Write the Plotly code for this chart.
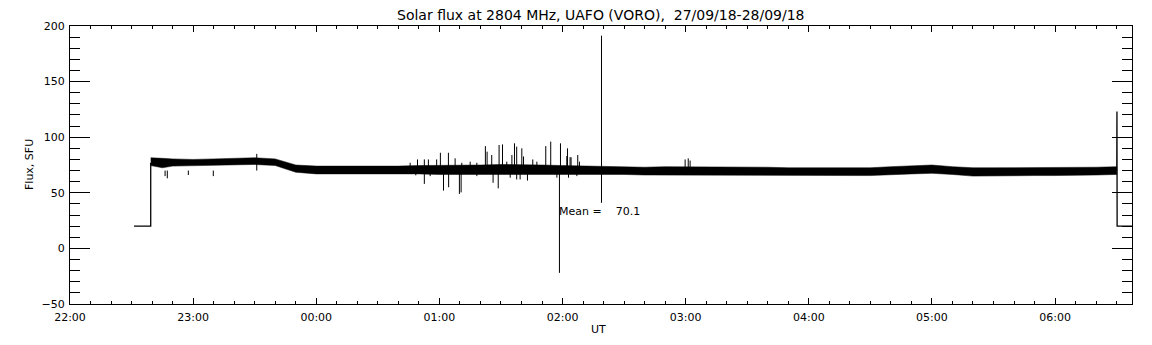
import plotly.graph_objects as go

# ---------------- data ----------------
# quiet-level lead-in / tail (UT "HH:MM:SS", flux SFU)
lead_t = ["22:31:12", "22:39:20", "22:39:20"]
lead_v = [20, 20, 77]
tail_t = ["06:30:05", "06:30:10", "06:30:15", "06:38:00"]
tail_v = [70, 123, 20, 20]

# envelope of the noisy flux band
band_t = ["22:39:20", "22:40:00", "22:45:00", "22:50:00", "23:00:00", "23:10:00",
          "23:20:00", "23:30:00", "23:40:00", "23:45:00", "23:50:00", "00:00:00",
          "00:10:00", "00:20:00", "00:30:00", "00:40:00", "00:50:00", "01:00:00",
          "01:10:00", "01:20:00", "01:30:00", "01:40:00", "01:50:00", "02:00:00",
          "02:10:00", "02:20:00", "02:30:00", "02:40:00", "02:50:00", "03:00:00",
          "03:10:00", "03:20:00", "03:30:00", "03:40:00", "03:50:00", "04:00:00",
          "04:10:00", "04:20:00", "04:30:00", "04:40:00", "04:50:00", "05:00:00",
          "05:10:00", "05:20:00", "05:30:00", "05:40:00", "05:50:00", "06:00:00",
          "06:10:00", "06:20:00", "06:30:05"]
band_hi = [81.5, 81.5, 81, 80.5, 80, 80.5, 81, 81.5, 80.5, 77.5, 75, 74,
           74, 73.5, 74, 74, 74.5, 74.5, 75, 75, 75.5, 75.5, 75, 74.5,
           74, 73.5, 73.5, 73, 73.5, 73.5, 73, 73, 73, 73, 72.5, 72.5,
           73, 72.5, 72.5, 73.5, 74.5, 75, 73.5, 72.5, 72.5, 72.5, 73, 72.5,
           73, 73, 73.5]
band_lo = [74.5, 74.5, 72.5, 74, 74, 74.5, 75, 75.5, 74.5, 71.5, 68.5, 67,
           67.5, 67, 67, 67, 67, 66.5, 66.5, 66.5, 66, 66.5, 66.5, 66.5,
           66.5, 66.5, 66.5, 66, 66, 66, 66, 66, 65.5, 66, 65.5, 65.5,
           65.5, 65.5, 65.5, 66, 67, 67.5, 66.5, 65, 65, 65.5, 65.5, 65.5,
           65.5, 66, 66.5]

# individual spikes (UT, extreme value)
spike_t = ["22:46:20", "22:47:25", "22:57:40", "23:09:50", "23:31:00",
           "00:45:45", "00:48:30", "00:49:20", "00:52:40", "00:52:40", "00:54:38",
           "00:55:30", "00:58:40", "01:00:29", "01:02:00", "01:04:24", "01:04:30",
           "01:07:40", "01:09:45", "01:10:35", "01:10:55", "01:15:00", "01:18:15",
           "01:18:15", "01:22:25", "01:23:15", "01:25:30", "01:26:10", "01:28:40",
           "01:29:05", "01:30:45", "01:32:50", "01:34:30", "01:35:20", "01:36:35",
           "01:37:40", "01:37:40", "01:39:20", "01:40:10", "01:41:00", "01:42:55",
           "01:45:30", "01:47:30", "01:51:50", "01:54:15", "01:57:15", "01:58:30",
           "01:59:00", "02:02:05", "02:02:25", "02:02:55", "02:03:40", "02:04:10",
           "02:07:00", "02:07:25", "02:08:15", "02:19:00", "02:19:00", "02:59:45",
           "03:01:15", "03:02:10"]
spike_v = [65, 63, 66, 65, 85,
           77, 65.7, 80, 80, 58, 80,
           65, 80, 86, 52, 86, 55,
           81, 49, 50.4, 77, 78, 77,
           65, 92, 87, 84, 59, 54,
           93, 93.5, 78, 63.6, 84, 94.5,
           91.5, 62, 62, 90, 82.7, 61,
           80, 78, 92, 96, 63.6, -22,
           94.5, 83, 90, 63.6, 82, 82,
           65, 84, 78, 191.3, 41, 80,
           81, 79]
spike_base = 70

mean_label = "Mean =\u00a0\u00a0\u00a0\u00a070.1"
title_text = "Solar flux at 2804 MHz, UAFO (VORO),\u00a0\u00a027/09/18-28/09/18"


def ut(s):
    day = 27 if int(s[:2]) >= 12 else 28
    return f"2018-09-{day} {s}"


fig = go.Figure()

# band (filled envelope)
bx = [ut(t) for t in band_t] + [ut(t) for t in band_t[::-1]]
by = band_hi + band_lo[::-1]
fig.add_trace(go.Scatter(x=bx, y=by, mode="lines", fill="toself",
                         fillcolor="black", line=dict(color="black", width=0.5),
                         hoverinfo="skip", showlegend=False))

# spikes as vertical strokes
sx, sy = [], []
for t, v in zip(spike_t, spike_v):
    sx += [ut(t), ut(t), None]
    sy += [spike_base, v, None]
fig.add_trace(go.Scatter(x=sx, y=sy, mode="lines",
                         line=dict(color="black", width=1), showlegend=False))

# lead-in and tail
fig.add_trace(go.Scatter(x=[ut(t) for t in lead_t], y=lead_v, mode="lines",
                         line=dict(color="black", width=1.3), showlegend=False))
fig.add_trace(go.Scatter(x=[ut(t) for t in tail_t], y=tail_v, mode="lines",
                         line=dict(color="black", width=1.3), showlegend=False))

font = dict(family="DejaVu Sans", size=11, color="black")

# the page adds an 8px body margin, so margins are reduced by 8px on left/top
fig.update_layout(
    width=1152, height=345,
    margin=dict(l=62, r=28, t=12, b=49),
    paper_bgcolor="white", plot_bgcolor="white",
    font=font, showlegend=False,
    xaxis=dict(type="date", range=[ut("22:00:00"), ut("06:37:30")],
               tick0=ut("22:00:00"), dtick=3600000, tickformat="%H:%M",
               ticks="inside", ticklen=6, tickcolor="black", tickwidth=1,
               minor=dict(dtick=600000, tick0=ut("22:00:00"), ticks="inside",
                          ticklen=3, tickcolor="black", showgrid=False),
               showline=True, linecolor="black", linewidth=1, mirror="allticks",
               showgrid=False, zeroline=False, ticklabelstandoff=3,
               tickfont=font),
    yaxis=dict(range=[-50, 200], tick0=0, dtick=50,
               ticks="inside", ticklen=20, tickcolor="black", tickwidth=1,
               minor=dict(dtick=10, ticks="inside", ticklen=10,
                          tickcolor="black", showgrid=False),
               showline=True, linecolor="black", linewidth=1, mirror="allticks",
               showgrid=False, zeroline=False, ticklabelstandoff=2,
               tickfont=font),
)

fig.add_annotation(text=title_text, xref="paper", yref="paper", x=0.5, y=1,
                   yshift=11, xanchor="center", yanchor="middle",
                   showarrow=False, font=dict(family="DejaVu Sans", size=14, color="black"))
fig.add_annotation(text="Flux, SFU", xref="paper", yref="paper", x=0, y=0.5,
                   xshift=-41, xanchor="center", yanchor="middle", textangle=-90,
                   showarrow=False, font=font)
fig.add_annotation(text="UT", xref="paper", yref="paper", x=0.5, y=0,
                   xshift=-3, yshift=-25, xanchor="center", yanchor="middle",
                   showarrow=False, font=font)
fig.add_annotation(text=mean_label, x=ut("01:57:14"), y=33.5, xref="x", yref="y",
                   xanchor="left", yanchor="middle", showarrow=False, font=font)

fig.write_html("out.html")
